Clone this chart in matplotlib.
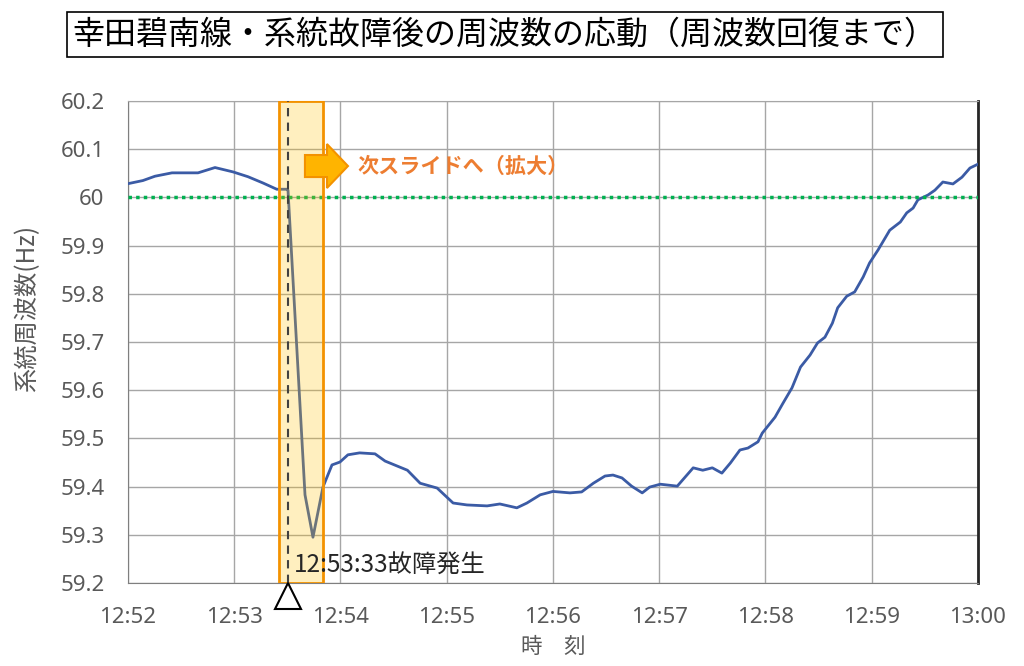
import numpy as np
import matplotlib
matplotlib.use("Agg")
import matplotlib.pyplot as plt
from matplotlib.patches import Polygon, Rectangle

plt.rcParams['font.family'] = ['Noto Sans CJK JP', 'DejaVu Sans']

#-----------------------------------------------------------------------------
# データ (12:52 からの経過分, 周波数 Hz)

t_min = [0.01, 0.14, 0.254, 0.414, 0.518, 0.659, 0.819, 0.988, 1.129, 1.27,
         1.40, 1.496, 1.506, 1.666, 1.741, 1.835, 1.92, 1.995, 2.07, 2.18,
         2.325, 2.42, 2.63, 2.75, 2.91, 3.06, 3.19, 3.38, 3.50, 3.66,
         3.755, 3.88, 4.0, 4.16, 4.27, 4.38, 4.49, 4.565, 4.65, 4.74,
         4.84, 4.91, 5.01, 5.17, 5.32, 5.41, 5.50, 5.59, 5.67, 5.76,
         5.835, 5.93, 5.97, 6.09, 6.165, 6.25, 6.33, 6.42, 6.49, 6.56,
         6.63, 6.68, 6.765, 6.84, 6.92, 6.98, 7.06, 7.17, 7.27, 7.33,
         7.39, 7.435, 7.53, 7.595, 7.67, 7.765, 7.85, 7.925, 8.0]

freq = [60.029, 60.035, 60.044, 60.051, 60.051, 60.051, 60.062, 60.053, 60.043, 60.030,
        60.017, 60.017, 60.015, 59.383, 59.295, 59.399, 59.445, 59.451, 59.466, 59.470,
        59.468, 59.453, 59.434, 59.407, 59.397, 59.366, 59.362, 59.360, 59.364, 59.356,
        59.366, 59.383, 59.390, 59.387, 59.389, 59.407, 59.422, 59.424, 59.418, 59.401,
        59.387, 59.399, 59.405, 59.401, 59.439, 59.434, 59.439, 59.428, 59.449, 59.476,
        59.480, 59.493, 59.511, 59.544, 59.573, 59.605, 59.648, 59.673, 59.698, 59.710,
        59.739, 59.771, 59.795, 59.804, 59.835, 59.864, 59.891, 59.932, 59.949, 59.968,
        59.978, 59.995, 60.005, 60.015, 60.032, 60.028, 60.042, 60.061, 60.069]

x_ticklabels = ["12:52", "12:53", "12:54", "12:55", "12:56", "12:57", "12:58", "12:59", "13:00"]
y_ticks = [59.2, 59.3, 59.4, 59.5, 59.6, 59.7, 59.8, 59.9, 60.0, 60.1, 60.2]
y_ticklabels = ["59.2", "59.3", "59.4", "59.5", "59.6", "59.7", "59.8", "59.9", "60", "60.1", "60.2"]

fault_t = 1.506          # 12:53:33
zoom_span = (1.42, 1.835)
nominal = 60.0

title = "幸田碧南線・系統故障後の周波数の応動（周波数回復まで）"

#-----------------------------------------------------------------------------

fig = plt.figure(figsize=(10.24, 6.66), dpi=100)
ax = fig.add_axes([0.125, 0.1246, 0.830, 0.7237])

gray = "#595959"

ax.plot(t_min, freq, color="#3B5BA5", lw=2, zorder=3)
ax.axhline(nominal, color="#00B050", lw=2.5, ls=(0, (1, 1.2)), zorder=4)

# 拡大範囲
ax.axvspan(*zoom_span, facecolor="#FFC000", alpha=0.25, lw=0, zorder=5)
ax.axvspan(*zoom_span, fill=False, edgecolor="#F39200", lw=2, zorder=6)
ax.axvline(fault_t, color="#404040", lw=1.5, ls=(0, (4, 3)), zorder=6)

ax.set_xlim(0, 8)
ax.set_ylim(59.2, 60.2)
ax.set_xticks(range(len(x_ticklabels)))
ax.set_xticklabels(x_ticklabels)
ax.set_yticks(y_ticks)
ax.set_yticklabels(y_ticklabels)
ax.tick_params(length=0, pad=17, labelsize=16, labelcolor=gray)
for lab in ax.get_xticklabels() + ax.get_yticklabels():
    lab.set_family("Noto Sans")

ax.grid(True, color="#A6A6A6", lw=1)
ax.set_axisbelow(True)
for side in ["left", "bottom"]:
    ax.spines[side].set_color("#7F7F7F")
ax.spines["top"].set_color("#A6A6A6")
ax.spines["right"].set_color("#262626")
ax.spines["right"].set_linewidth(2)

ax.set_xlabel("時　刻", fontsize=15.5, color=gray, labelpad=6)
fig.text(0.027, 0.5375, "系統周波数(Hz)", rotation=90, fontsize=17.5,
         color=gray, ha="center", va="center")

# 故障発生の印
ax.plot([fault_t], [-0.027], marker="^", ms=19, mfc="white", mec="black",
        mew=1.5, clip_on=False, transform=ax.get_xaxis_transform(), zorder=10)
ax.text(fault_t + 0.06, 59.235, "12:53:33故障発生", fontsize=17.5,
        color="#262626", ha="left", va="center", zorder=10)

# 矢印と注記
arrow = Polygon([[0.2082, 0.8423], [0.2082, 0.888], [0.2341, 0.888], [0.2341, 0.9108],
                 [0.2588, 0.8651], [0.2341, 0.8195], [0.2341, 0.8423]],
                closed=True, transform=ax.transAxes, facecolor="#FFB400",
                edgecolor="#F39200", lw=1.5, zorder=8)
ax.add_patch(arrow)
ax.text(0.2694, 0.8651, "次スライドへ（拡大）", transform=ax.transAxes,
        fontsize=15.2, fontweight="bold", color="#ED7D31", ha="left",
        va="center", zorder=8)

# タイトル
fig.patches.append(Rectangle((0.0654, 0.9144), 0.8555, 0.0676, transform=fig.transFigure,
                             fill=False, edgecolor="black", lw=1.2))
fig.text(0.493, 0.9475, title, fontsize=23, ha="center", va="center", color="black")

fig.savefig("out.png", dpi=100)
